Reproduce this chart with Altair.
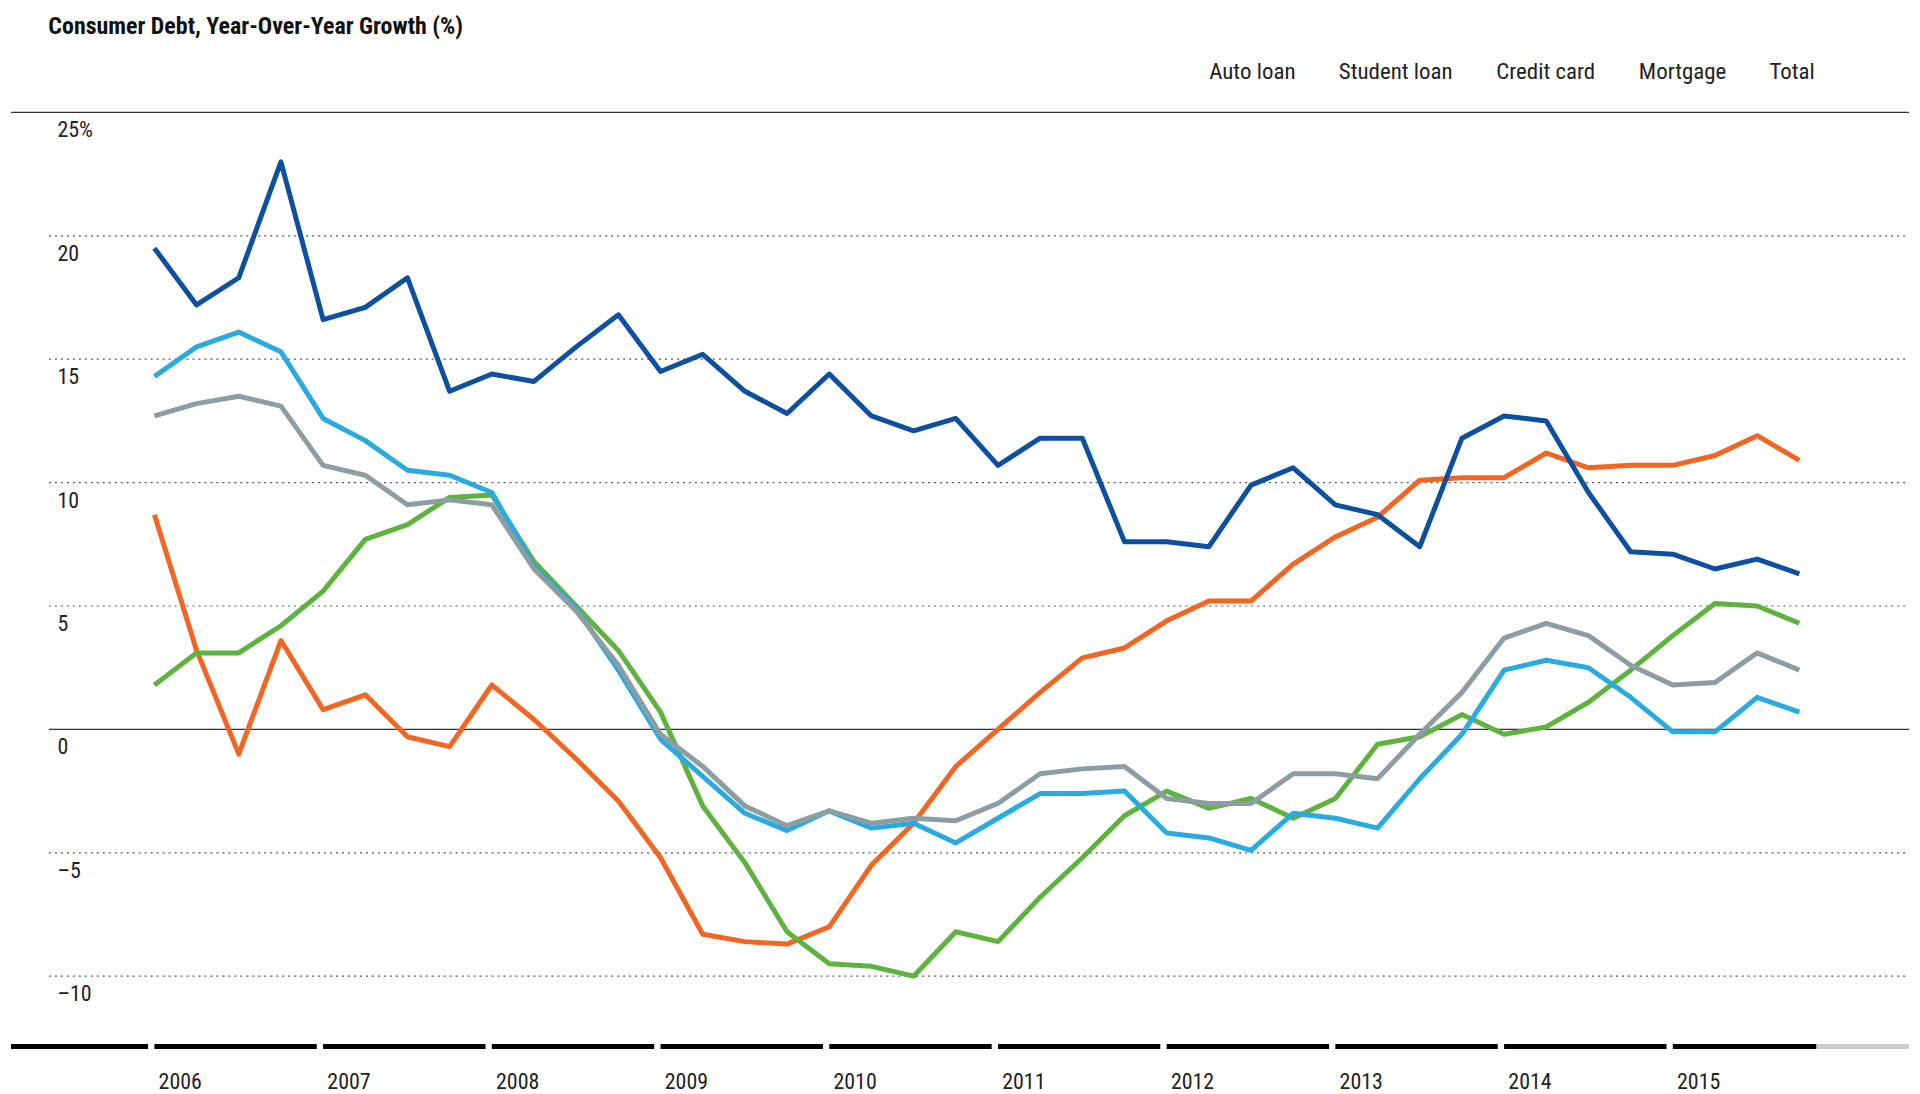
import altair as alt
import pandas as pd

series_names = ["Auto loan", "Student loan", "Credit card", "Mortgage", "Total"]
colors = ["#f26522", "#0d4fa0", "#5db33d", "#29abe2", "#8c9ea3"]
years = list(range(2006, 2016))

auto = [8.7, 3.2, -1.0, 3.6, 0.8, 1.4, -0.3, -0.7, 1.8, 0.4, -1.2, -2.9, -5.2, -8.3, -8.6, -8.7,
        -8.0, -5.5, -3.8, -1.5, 0.0, 1.5, 2.9, 3.3, 4.4, 5.2, 5.2, 6.7, 7.8, 8.6, 10.1, 10.2,
        10.2, 11.2, 10.6, 10.7, 10.7, 11.1, 11.9, 10.9]
student = [19.5, 17.2, 18.3, 23.0, 16.6, 17.1, 18.3, 13.7, 14.4, 14.1, 15.5, 16.8, 14.5, 15.2, 13.7, 12.8,
           14.4, 12.7, 12.1, 12.6, 10.7, 11.8, 11.8, 7.6, 7.6, 7.4, 9.9, 10.6, 9.1, 8.7, 7.4, 11.8,
           12.7, 12.5, 9.6, 7.2, 7.1, 6.5, 6.9, 6.3]
credit = [1.8, 3.1, 3.1, 4.2, 5.6, 7.7, 8.3, 9.4, 9.5, 6.8, 5.0, 3.2, 0.7, -3.1, -5.4, -8.2,
          -9.5, -9.6, -10.0, -8.2, -8.6, -6.8, -5.2, -3.5, -2.5, -3.2, -2.8, -3.6, -2.8, -0.6, -0.3, 0.6,
          -0.2, 0.1, 1.1, 2.4, 3.8, 5.1, 5.0, 4.3]
mortgage = [14.3, 15.5, 16.1, 15.3, 12.6, 11.7, 10.5, 10.3, 9.6, 6.6, 4.9, 2.4, -0.4, -1.9, -3.4, -4.1,
            -3.3, -4.0, -3.8, -4.6, -3.6, -2.6, -2.6, -2.5, -4.2, -4.4, -4.9, -3.4, -3.6, -4.0, -2.0, -0.2,
            2.4, 2.8, 2.5, 1.3, -0.1, -0.1, 1.3, 0.7]
total = [12.7, 13.2, 13.5, 13.1, 10.7, 10.3, 9.1, 9.3, 9.1, 6.5, 4.8, 2.6, -0.2, -1.5, -3.1, -3.9,
         -3.3, -3.8, -3.6, -3.7, -3.0, -1.8, -1.6, -1.5, -2.8, -3.0, -3.0, -1.8, -1.8, -2.0, -0.2, 1.5,
         3.7, 4.3, 3.8, 2.6, 1.8, 1.9, 3.1, 2.4]

y_ticks = [25, 20, 15, 10, 5, 0, -5, -10]
y_labels = ["25%", "20", "15", "10", "5", "0", "–5", "–10"]

FONT = "Liberation Sans Narrow, Roboto Condensed, Roboto, sans-serif"
XD = [-3.4, 41.6]
YD = [-16, 25]
xs = alt.Scale(domain=XD, nice=False, zero=False)
ys = alt.Scale(domain=YD, nice=False, zero=False)

rows = []
for name, vals in zip(series_names, [auto, student, credit, mortgage, total]):
    for i, v in enumerate(vals):
        rows.append({"t": i, "v": v, "series": name})
df = pd.DataFrame(rows)

grid = pd.DataFrame({"y": [t for t in y_ticks if t not in (0, 25)], "x1": -2.5, "x2": 41.6})
zero = pd.DataFrame({"y": [0], "x1": [-2.5], "x2": [41.6]})
top = pd.DataFrame({"y": [25], "x1": [XD[0]], "x2": [XD[1]]})
ylab = pd.DataFrame({"y": y_ticks, "label": y_labels, "x": -2.3})

segs = [{"x1": -3.4, "x2": -0.15}]
for k in range(len(years)):
    segs.append({"x1": 4 * k, "x2": 4 * k + 3.85})
segdf = pd.DataFrame(segs)
segdf["y"] = -12.85
futdf = pd.DataFrame({"x1": [39.4], "x2": [41.6], "y": [-12.85]})
yrdf = pd.DataFrame({"x": [4 * k + 0.1 for k in range(len(years))], "label": [str(y) for y in years], "y": -13.9})

def rule(d, **kw):
    return alt.Chart(d).mark_rule(**kw).encode(
        x=alt.X("x1:Q", scale=xs, axis=None), x2="x2", y=alt.Y("y:Q", scale=ys, axis=None))

gridl = rule(grid, color="#555", strokeDash=[2, 4], strokeWidth=1.2)
zerol = rule(zero, color="#333", strokeWidth=1.2)
topl = rule(top, color="#333", strokeWidth=1.2)
segl = rule(segdf, color="black", strokeWidth=5)
futl = rule(futdf, color="#cccccc", strokeWidth=5)

ytxt = alt.Chart(ylab).mark_text(align="left", baseline="top", dy=8, fontSize=22, font=FONT, color="#222").encode(
    x=alt.X("x:Q", scale=xs, axis=None), y=alt.Y("y:Q", scale=ys, axis=None), text="label")
yrt = alt.Chart(yrdf).mark_text(align="left", baseline="top", fontSize=22, font=FONT, color="#222").encode(
    x=alt.X("x:Q", scale=xs, axis=None), y=alt.Y("y:Q", scale=ys, axis=None), text="label")
note = alt.Chart(pd.DataFrame({"x": [41.4], "y": [-15.6], "label": ["QEI42"]})).mark_text(
    align="right", fontSize=11, font=FONT, color="#333").encode(
    x=alt.X("x:Q", scale=xs, axis=None), y=alt.Y("y:Q", scale=ys, axis=None), text="label")

lines = alt.Chart(df).mark_line(strokeWidth=5, strokeJoin="round").encode(
    x=alt.X("t:Q", scale=xs, axis=None),
    y=alt.Y("v:Q", scale=ys, axis=None),
    color=alt.Color("series:N", sort=series_names,
                    scale=alt.Scale(domain=series_names, range=colors),
                    legend=alt.Legend(title=None, orient="none", direction="horizontal",
                                      legendX=1175, legendY=-52, symbolType="circle",
                                      symbolSize=260, symbolStrokeWidth=0, labelFontSize=23,
                                      labelFont=FONT, labelColor="#222", columnPadding=16,
                                      symbolOpacity=1, symbolFillColor=None)),
    order=alt.Order("t:Q"))

chart = alt.layer(gridl, zerol, topl, ytxt, segl, futl, yrt, note, lines).properties(
    width=1904, height=1015,
    padding={"left": 0, "top": 5, "right": 0, "bottom": 0},
    title=alt.TitleParams("Consumer Debt, Year-Over-Year Growth (%)", anchor="start",
                          font=FONT, fontSize=24, fontWeight="bold", color="#111",
                          offset=22, dx=40),
).configure_view(stroke=None).configure_legend(symbolType="circle")

chart.save("out.html", embed_options={"renderer": "svg", "actions": False})
